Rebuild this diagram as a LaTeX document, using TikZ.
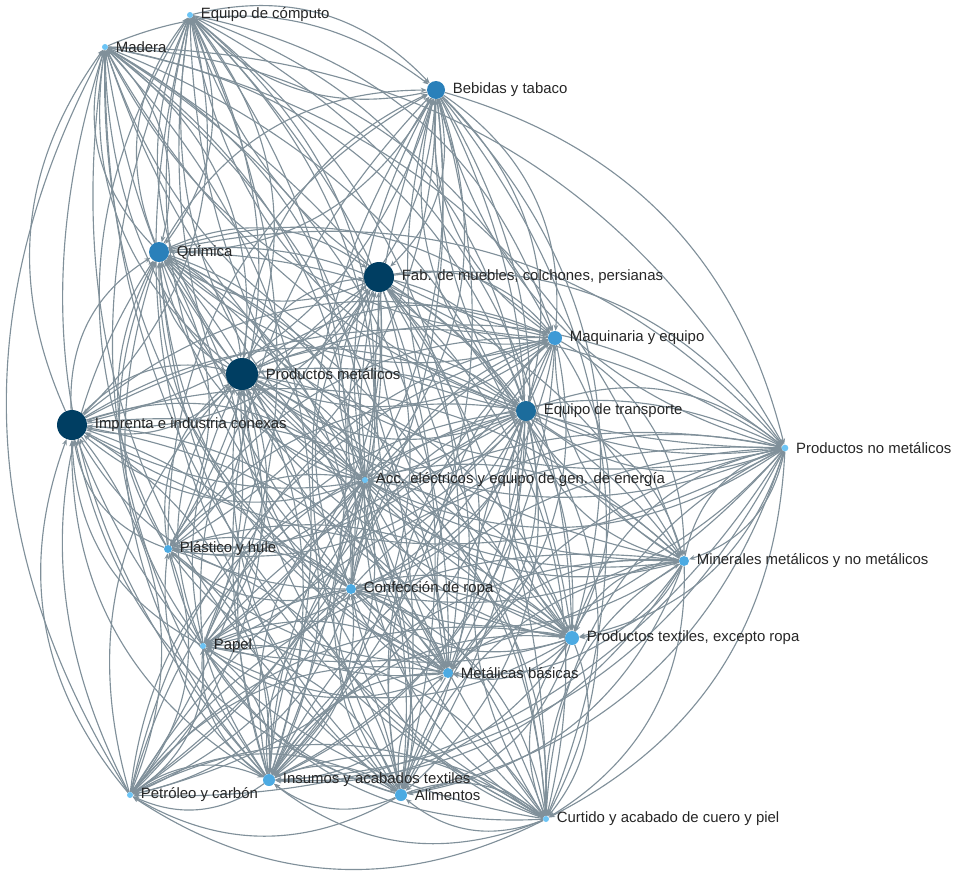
\documentclass[tikz,border=0pt]{standalone}
\usepackage{fontspec}
\setmainfont{Liberation Sans}
\usepackage{tikz}
\usetikzlibrary{arrows.meta, backgrounds}
\definecolor{edgecolor}{RGB}{128,144,154}
\definecolor{navycolor}{RGB}{0,62,98}
\definecolor{deepcolor}{RGB}{28,108,156}
\definecolor{midcolor}{RGB}{42,128,186}
\definecolor{bluecolor}{RGB}{62,154,214}
\definecolor{skycolor}{RGB}{76,170,226}
\definecolor{lightcolor}{RGB}{108,196,245}
\definecolor{labelcolor}{RGB}{38,38,38}

\begin{document}
\begin{tikzpicture}[
    x=0.75pt, y=-0.75pt,
    sector/.style={circle, draw=none, inner sep=0pt},
    lbl/.style={inner sep=0pt, text=labelcolor, font=\fontsize{11.2}{13}\selectfont},
    every label/.style={lbl},
    label distance=5.5pt,
    flow/.style={-{Stealth[length=4.5pt, width=3.6pt]}, line width=0.85pt, edgecolor}
]
    \useasboundingbox (0,0) rectangle (975,889);

    % sectores
    \node[sector, fill=lightcolor, minimum size=4.5pt, label=right:Equipo de cómputo] (computo) at (190,15) {};
    \node[sector, fill=lightcolor, minimum size=4.5pt, label=right:Madera] (madera) at (105,47) {};
    \node[sector, fill=midcolor, minimum size=13.5pt, label=right:Bebidas y tabaco] (bebidas) at (436,90) {};
    \node[sector, fill=midcolor, minimum size=15pt, label=right:Química] (quimica) at (159,252) {};
    \node[sector, fill=navycolor, minimum size=22.5pt, label=right:{Fab. de muebles, colchones, persianas}] (muebles) at (379,277) {};
    \node[sector, fill=bluecolor, minimum size=10.5pt, label=right:Maquinaria y equipo] (maquinaria) at (555,338) {};
    \node[sector, fill=navycolor, minimum size=24pt, label=right:Productos metálicos] (metalicos) at (242,374) {};
    \node[sector, fill=navycolor, minimum size=22.5pt, label=right:Imprenta e industria conexas] (imprenta) at (72,425) {};
    \node[sector, fill=deepcolor, minimum size=15pt, label=right:Equipo de transporte] (transporte) at (526,411) {};
    \node[sector, fill=lightcolor, minimum size=5pt, label=right:Productos no metálicos] (nometalicos) at (785,448) {};
    \node[sector, fill=lightcolor, minimum size=4.5pt, label=right:{Acc. eléctricos y equipo de gen. de energía}] (electricos) at (365,480) {};
    \node[sector, fill=skycolor, minimum size=6pt, label=right:Plástico y hule] (plastico) at (168,549) {};
    \node[sector, fill=skycolor, minimum size=7.5pt, label=right:Minerales metálicos y no metálicos] (minerales) at (684,561) {};
    \node[sector, fill=skycolor, minimum size=7.5pt, label=right:Confección de ropa] (ropa) at (351,589) {};
    \node[sector, fill=skycolor, minimum size=10.5pt, label=right:{Productos textiles, excepto ropa}] (textiles) at (572,638) {};
    \node[sector, fill=lightcolor, minimum size=4.5pt, label=right:Papel] (papel) at (203,646) {};
    \node[sector, fill=skycolor, minimum size=7.5pt, label=right:Metálicas básicas] (basicas) at (448,673) {};
    \node[sector, fill=skycolor, minimum size=9pt, label=right:Insumos y acabados textiles] (insumos) at (269,780) {};
    \node[sector, fill=lightcolor, minimum size=4.5pt, label=right:Petróleo y carbón] (petroleo) at (130,795) {};
    \node[sector, fill=skycolor, minimum size=9pt, label=right:Alimentos] (alimentos) at (401,795) {};
    \node[sector, fill=lightcolor, minimum size=4.5pt, label=right:Curtido y acabado de cuero y piel] (cuero) at (546,819) {};

    % flujos entre sectores
    \def\sectores{computo,madera,bebidas,quimica,muebles,maquinaria,metalicos,imprenta,transporte,nometalicos,electricos,plastico,minerales,ropa,textiles,papel,basicas,insumos,petroleo,alimentos,cuero}
    \begin{scope}[on background layer]
    \foreach \a [count=\i] in \sectores {
        \foreach \b [count=\j] in \sectores {
            \pgfmathtruncatemacro\keep{mod(\i*\j*\j+3*\i*\i+7*\j,11)}
            \ifx\a\b\else
                \ifnum\keep<8
                    \draw[flow] (\a) to[bend left=30] (\b);
                \fi
            \fi
        }
    }
    \end{scope}
\end{tikzpicture}
\end{document}
